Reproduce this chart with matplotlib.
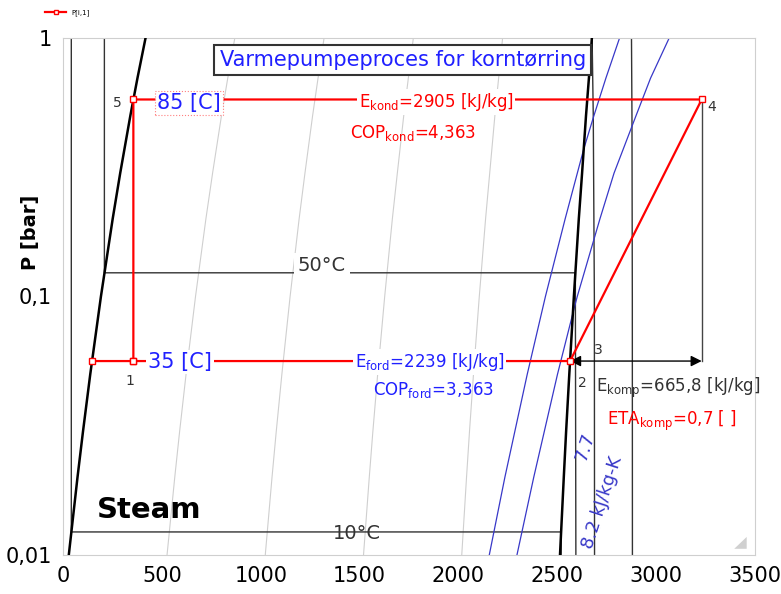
import numpy as np
import matplotlib
matplotlib.use("Agg")
import matplotlib.pyplot as plt
from matplotlib.ticker import FixedLocator, NullLocator
from matplotlib.patches import Polygon

plt.rcParams['font.family'] = 'DejaVu Sans'
plt.rcParams['mathtext.fontset'] = 'dejavusans'

# saturation table for water [bar], [kJ/kg]
P_sat = [0.01, 0.02, 0.03, 0.05, 0.1, 0.2, 0.3, 0.5, 0.7, 1.0]
h_f = [29.3, 73.4, 101.0, 137.8, 191.8, 251.4, 289.3, 340.5, 376.7, 417.5]
h_g = [2513.7, 2532.9, 2544.6, 2560.7, 2583.9, 2608.9, 2625.4, 2645.2, 2660.0, 2674.9]
qualities = [0.2, 0.4, 0.6, 0.8]

# isotherms (h, P)
iso_10_h = [42.0, 42.0, 2519.2, 2519.8]
iso_10_P = [1.0, 0.01228, 0.01228, 0.01]
iso_50_h = [209.3, 209.3, 2591.3, 2594.0]
iso_50_P = [1.0, 0.1235, 0.1235, 0.01]
iso_100_h = [2676.2, 2682.0, 2687.5, 2688.4]
iso_100_P = [1.0, 0.5, 0.1, 0.01]
iso_200_h = [2875.3, 2877.7, 2879.5, 2880.0]
iso_200_P = [1.0, 0.5, 0.1, 0.01]

# isentropes s=7.7 and s=8.2 kJ/kg-K
s77_P = [0.01, 0.02, 0.05, 0.1, 0.2, 0.37, 0.5, 0.7, 1.0]
s77_h = [2156, 2235, 2348, 2440, 2540, 2633, 2685, 2746, 2815]
s82_P = [0.01, 0.02, 0.05, 0.0868, 0.1, 0.2, 0.3, 0.5, 0.7, 1.0]
s82_h = [2296, 2381, 2501, 2580, 2601, 2716, 2787, 2898, 2972, 3066]

# heat pump cycle
P_lav = 0.05627   # 35 C
P_hoj = 0.5783    # 85 C
cyc_h = [146.6, 355.9, 2564.6, 3230.4, 355.9, 355.9]
cyc_P = [P_lav, P_lav, P_lav, P_hoj, P_hoj, P_lav]
h1, h2, h4, h5 = 355.9, 2564.6, 3230.4, 355.9

fig = plt.figure(figsize=(7.81, 5.94), dpi=100)
ax = fig.add_axes([63/781, 39/594, 692/781, 517/594])
ax.set_yscale('log')
ax.set_xlim(0, 3500)
ax.set_ylim(0.01, 1)

hf = np.array(h_f)
hg = np.array(h_g)
for x in qualities:
    ax.plot(hf + x*(hg - hf), P_sat, color='#cfcfcf', lw=0.8, zorder=1)

for hh, pp in [(iso_10_h, iso_10_P), (iso_50_h, iso_50_P),
               (iso_100_h, iso_100_P), (iso_200_h, iso_200_P)]:
    ax.plot(hh, pp, color='#333333', lw=1.0, zorder=2)

ax.plot(s77_h, s77_P, color='#3838c8', lw=0.9, zorder=2)
ax.plot(s82_h, s82_P, color='#3838c8', lw=0.9, zorder=2)

ax.plot(h_f, P_sat, color='black', lw=1.8, zorder=3)
ax.plot(h_g, P_sat, color='black', lw=1.8, zorder=3)

# compressor work dimension
ax.plot([h4, h4], [P_hoj, P_lav], color='#444444', lw=1.0, zorder=3)
ax.annotate('', xy=(h2, P_lav), xytext=(h4, P_lav),
            arrowprops=dict(arrowstyle='<|-|>', color='black', lw=1.0,
                            mutation_scale=16, shrinkA=0, shrinkB=0), zorder=3)

cyc, = ax.plot(cyc_h, cyc_P, color='red', lw=1.6, zorder=4,
               marker='s', ms=4, mfc='white', mec='red', mew=1.0,
               label='P[i,1]')

ax.set_xticks(np.arange(0, 3501, 500))
ax.yaxis.set_major_locator(FixedLocator([0.01, 0.1, 1]))
ax.yaxis.set_minor_locator(NullLocator())
ax.set_yticklabels(['0,01', '0,1', '1'])
ax.tick_params(length=0, labelsize=15, pad=8)
for sp in ax.spines.values():
    sp.set_color('#cfcfcf')
fig.text(31/781, 1 - 232/594, 'P [bar]', rotation=90, ha='center', va='center',
         fontsize=14, fontweight='bold')

tr = ax.transAxes
ax.text(0.491, 0.957, 'Varmepumpeproces for korntørring', transform=tr,
        ha='center', va='center', fontsize=15, color='#2020ff', zorder=6,
        bbox=dict(boxstyle='square,pad=0.25', fc='white', ec='#333333', lw=1.5))
ax.text(0.182, 0.874, '85 [C]', transform=tr, ha='center', va='center',
        fontsize=15, color='#2020ff', zorder=6,
        bbox=dict(boxstyle='square,pad=0.1', fc='white', ec='#ff8080', lw=0.8, ls=':'))
ax.text(0.169, 0.373, '35 [C]', transform=tr, ha='center', va='center',
        fontsize=15, color='#2020ff', zorder=6,
        bbox=dict(boxstyle='square,pad=0.1', fc='white', ec='none'))
ax.text(0.539, 0.876, r'E$_{\mathrm{kond}}$=2905 [kJ/kg]', transform=tr,
        ha='center', va='center', fontsize=12, color='red', zorder=6,
        bbox=dict(boxstyle='square,pad=0.1', fc='white', ec='none'))
ax.text(0.506, 0.816, r'COP$_{\mathrm{kond}}$=4,363', transform=tr,
        ha='center', va='center', fontsize=12, color='red', zorder=6)
ax.text(0.530, 0.373, r'E$_{\mathrm{ford}}$=2239 [kJ/kg]', transform=tr,
        ha='center', va='center', fontsize=12, color='#2020ff', zorder=6,
        bbox=dict(boxstyle='square,pad=0.1', fc='white', ec='none'))
ax.text(0.535, 0.319, r'COP$_{\mathrm{ford}}$=3,363', transform=tr,
        ha='center', va='center', fontsize=12, color='#2020ff', zorder=6)
ax.text(0.889, 0.323, r'E$_{\mathrm{komp}}$=665,8 [kJ/kg]', transform=tr,
        ha='center', va='center', fontsize=12, color='#333333', zorder=6)
ax.text(0.880, 0.259, r'ETA$_{\mathrm{komp}}$=0,7 [ ]', transform=tr,
        ha='center', va='center', fontsize=12, color='red', zorder=6)

ax.text(0.374, 0.559, '50°C', transform=tr, ha='center', va='center',
        fontsize=14, color='#333333', zorder=5,
        bbox=dict(boxstyle='square,pad=0.2', fc='white', ec='none'))
ax.text(0.425, 0.041, '10°C', transform=tr, ha='center', va='center',
        fontsize=14, color='#333333', zorder=5)
ax.text(0.049, 0.087, 'Steam', transform=tr, ha='left', va='center',
        fontsize=21, fontweight='bold', color='black', zorder=5)
ax.text(0.754, 0.209, '7.7', transform=tr, ha='center', va='center',
        fontsize=13, color='#3838c8', rotation=72, zorder=5)
ax.text(0.780, 0.101, '8.2 kJ/kg-K', transform=tr, ha='center', va='center',
        fontsize=13, color='#3838c8', rotation=72, zorder=5)

for lbl, fx, fy in [('5', 0.078, 0.874), ('1', 0.097, 0.337), ('2', 0.750, 0.333),
                    ('3', 0.773, 0.397), ('4', 0.938, 0.867)]:
    ax.text(fx, fy, lbl, transform=tr, ha='center', va='center',
            fontsize=10, color='#333333', zorder=6)

# resize grip in the lower right corner
ax.add_patch(Polygon([[0.988, 0.012], [0.988, 0.035], [0.970, 0.012]],
                     closed=True, transform=tr, fc='#d0d0d0', ec='none', zorder=5))

fig.legend(handles=[cyc], loc='upper left', bbox_to_anchor=(0.05, 0.995),
           frameon=False, fontsize=5, handlelength=3, markerscale=0.8)

fig.savefig('out.png', dpi=100)
